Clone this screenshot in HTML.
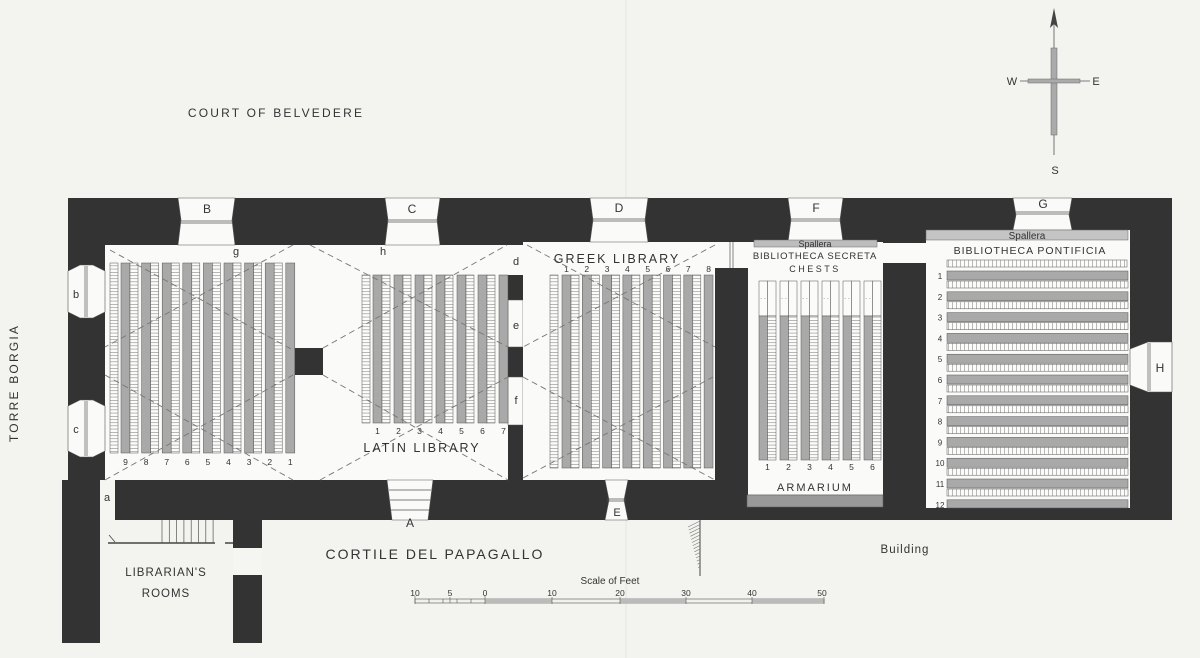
<!DOCTYPE html>
<html><head><meta charset="utf-8"><style>
html,body{margin:0;padding:0;background:#f3f3ef}
svg{display:block}
text{font-family:"Liberation Sans",sans-serif;fill:#333}
</style></head><body>
<svg id="s" width="1200" height="658" viewBox="0 0 1200 658" xmlns="http://www.w3.org/2000/svg">
<defs>
<pattern id="hh" width="8" height="3.2" patternUnits="userSpaceOnUse"><rect width="8" height="3.2" fill="#fbfbf9"/><line x1="0" y1="0.2" x2="8" y2="0.2" stroke="#777" stroke-width="0.6"/></pattern>
<pattern id="hv" width="4" height="8" patternUnits="userSpaceOnUse"><rect width="4" height="8" fill="#fbfbf9"/><line x1="0.2" y1="0" x2="0.2" y2="8" stroke="#777" stroke-width="0.6"/></pattern>
</defs>
<rect width="1200" height="658" fill="#f3f3ef"/>
<line x1="626" y1="0" x2="626" y2="658" stroke="#e4e4e0" stroke-width="1"/>
<!-- walls -->
<rect x="68" y="198" width="1104" height="322" fill="#333"/>
<rect x="62" y="480" width="38" height="163" fill="#333"/>
<rect x="233" y="520" width="29" height="123" fill="#333"/>
<rect x="233" y="548" width="29" height="27" fill="#f5f5f2"/>
<!-- rooms -->
<rect x="105" y="245" width="403" height="235" fill="#fafaf8"/>
<rect x="100" y="480" width="15" height="40" fill="#f5f5f2"/>
<rect x="508" y="245" width="15" height="30" fill="#fafaf8"/>
<rect x="508" y="300" width="15" height="47" fill="#fafaf8" stroke="#555" stroke-width="0.5"/>
<rect x="508" y="377" width="15" height="48" fill="#fafaf8" stroke="#555" stroke-width="0.5"/>
<rect x="523" y="242" width="192" height="238" fill="#fafaf8"/>
<rect x="715" y="242" width="33" height="26" fill="#fafaf8"/>
<line x1="730" y1="242" x2="730" y2="268" stroke="#555" stroke-width="0.7"/>
<line x1="733" y1="242" x2="733" y2="268" stroke="#555" stroke-width="0.7"/>
<rect x="748" y="242" width="135" height="265" fill="#fafaf8"/>
<rect x="883" y="243" width="43" height="20" fill="#fafaf8"/>
<rect x="926" y="230" width="204" height="278" fill="#fafaf8"/>
<rect x="293" y="348" width="30" height="27" fill="#333"/>
<!-- top doors -->
<g fill="#fafaf8" stroke="#555" stroke-width="0.6">
<polygon points="178,198 235,198 232,220 235,245 178,245 181,220"/>
<polygon points="385,198 440,198 437,220 440,245 385,245 388,220"/>
<polygon points="590,198 648,198 645,220 648,242 590,242 593,220"/>
<polygon points="788,198 843,198 840,220 843,242 788,242 791,220"/>
<polygon points="1013,198 1072,198 1069,215 1072,230 1013,230 1016,215"/>
<polygon points="68,271 80,265 93,265 105,271 105,312 93,318 80,318 68,312"/>
<polygon points="68,406 80,400 93,400 105,406 105,451 93,457 80,457 68,451"/>
<polygon points="1130,349 1148,342 1172,342 1172,392 1148,392 1130,385"/>
<polygon points="387,480 433,480 428,520 392,520"/>
<polygon points="605,480 628,480 624,500 628,520 605,520 609,500"/>
</g>
<g stroke="#555" stroke-width="0.7">
<line x1="180" y1="221" x2="233" y2="221"/><line x1="180" y1="223" x2="233" y2="223"/>
<line x1="387" y1="220" x2="438" y2="220"/><line x1="387" y1="222" x2="438" y2="222"/>
<line x1="592" y1="219" x2="646" y2="219"/><line x1="592" y1="221" x2="646" y2="221"/>
<line x1="790" y1="219" x2="841" y2="219"/><line x1="790" y1="221" x2="841" y2="221"/>
<line x1="1015" y1="212" x2="1070" y2="212"/><line x1="1015" y1="214" x2="1070" y2="214"/>
<line x1="85" y1="266" x2="85" y2="317"/><line x1="87" y1="266" x2="87" y2="317"/>
<line x1="85" y1="401" x2="85" y2="456"/><line x1="87" y1="401" x2="87" y2="456"/>
<line x1="1148" y1="343" x2="1148" y2="391"/><line x1="1150" y1="343" x2="1150" y2="391"/>
<line x1="389" y1="490" x2="431" y2="490"/><line x1="390" y1="500" x2="430" y2="500"/><line x1="391" y1="510" x2="429" y2="510"/>
<line x1="607" y1="499" x2="626" y2="499"/><line x1="607" y1="501" x2="626" y2="501"/>
</g>
<g id="dyn"></g>
<!-- dashed lines -->
<g stroke="#777" stroke-width="0.9" stroke-dasharray="6,4" fill="none">
<line x1="110" y1="250" x2="293" y2="350"/><line x1="293" y1="245" x2="105" y2="347"/>
<line x1="105" y1="375" x2="293" y2="480"/><line x1="105" y1="480" x2="293" y2="375"/>
<line x1="323" y1="348" x2="507" y2="245"/><line x1="310" y1="245" x2="508" y2="347"/>
<line x1="323" y1="375" x2="508" y2="480"/><line x1="320" y1="480" x2="508" y2="377"/>
<line x1="527" y1="245" x2="715" y2="347"/><line x1="715" y1="245" x2="523" y2="347"/>
<line x1="523" y1="377" x2="715" y2="480"/><line x1="523" y1="478" x2="713" y2="377"/>
</g>
<!-- Secreta -->
<rect x="754" y="240" width="123" height="7" fill="#bdbdbd" stroke="#666" stroke-width="0.5"/>
<text x="815" y="247" font-size="9" text-anchor="middle">Spallera</text>
<text x="815" y="259" font-size="9.5" text-anchor="middle" letter-spacing="0.8">BIBLIOTHECA SECRETA</text>
<text x="815" y="272" font-size="9" text-anchor="middle" letter-spacing="2.5">CHESTS</text>
<text x="815" y="491" font-size="11" text-anchor="middle" letter-spacing="2">ARMARIUM</text>
<rect x="747" y="495" width="136" height="12" fill="#999" stroke="#555" stroke-width="0.5"/>
<!-- Pontificia -->
<rect x="926" y="230" width="202" height="10" fill="#c4c4c4" stroke="#666" stroke-width="0.5"/>
<text x="1027" y="239" font-size="10" text-anchor="middle">Spallera</text>
<text x="1030" y="254" font-size="10.5" text-anchor="middle" letter-spacing="1">BIBLIOTHECA PONTIFICIA</text>
<!-- labels -->
<g font-size="11" text-anchor="middle" font-family="Liberation Serif">
<text x="207" y="213" font-family="Liberation Sans" font-size="12">B</text>
<text x="412" y="213" font-family="Liberation Sans" font-size="12">C</text>
<text x="619" y="212" font-family="Liberation Sans" font-size="12">D</text>
<text x="816" y="212" font-family="Liberation Sans" font-size="12">F</text>
<text x="1043" y="208" font-family="Liberation Sans" font-size="12">G</text>
<text x="1160" y="372" font-family="Liberation Sans" font-size="12">H</text>
<text x="410" y="527" font-family="Liberation Sans" font-size="12">A</text>
<text x="617" y="516" font-family="Liberation Sans" font-size="11">E</text>
<text x="76" y="298">b</text><text x="76" y="433">c</text>
<text x="107" y="501">a</text>
<text x="236" y="255">g</text><text x="383" y="255">h</text>
<text x="516" y="265">d</text><text x="516" y="329">e</text><text x="516" y="404">f</text>
</g>
<text x="422" y="452" font-size="12.5" text-anchor="middle" letter-spacing="2">LATIN LIBRARY</text>
<text x="617" y="263" font-size="12.5" text-anchor="middle" letter-spacing="2">GREEK LIBRARY</text>
<text x="276" y="117" font-size="12" text-anchor="middle" letter-spacing="2.2">COURT OF BELVEDERE</text>
<text x="0" y="0" font-size="12" text-anchor="middle" letter-spacing="2.2" transform="translate(18,383) rotate(-90)">TORRE BORGIA</text>
<text x="435" y="559" font-size="14" text-anchor="middle" letter-spacing="2">CORTILE DEL PAPAGALLO</text>
<text x="905" y="553" font-size="11.5" text-anchor="middle" letter-spacing="1">Building</text>
<text x="166" y="576" font-size="11.5" text-anchor="middle" letter-spacing="1">LIBRARIAN'S</text>
<text x="166" y="597" font-size="11.5" text-anchor="middle" letter-spacing="1">ROOMS</text>
<!-- librarian stair ticks -->
<g stroke="#444" stroke-width="0.8">
<line x1="108" y1="543" x2="215" y2="543" stroke-width="1.5"/>
<line x1="225" y1="543" x2="233" y2="543" stroke-width="1.5"/>
<line x1="109" y1="535" x2="115" y2="542"/>
</g>
<g id="ticks" stroke="#555" stroke-width="0.7"></g>
<!-- building hatch -->
<line x1="700" y1="520" x2="700" y2="576" stroke="#444" stroke-width="1"/>
<g id="bh" stroke="#777" stroke-width="0.6"></g>
<!-- scale -->
<text x="610" y="584" font-size="10" text-anchor="middle" font-family="Liberation Serif">Scale of Feet</text>
<g font-size="8.5" text-anchor="middle" font-family="Liberation Serif">
<text x="415" y="596">10</text><text x="450" y="596">5</text><text x="485" y="596">0</text><text x="552" y="596">10</text><text x="620" y="596">20</text><text x="686" y="596">30</text><text x="752" y="596">40</text><text x="822" y="596">50</text>
</g>
<rect x="415" y="599" width="409" height="4" fill="#f0f0ec" stroke="#555" stroke-width="0.6"/>
<rect x="485" y="599" width="67" height="4" fill="#bbb"/><rect x="620" y="599" width="66" height="4" fill="#bbb"/><rect x="752" y="599" width="72" height="4" fill="#bbb"/>
<g stroke="#555" stroke-width="0.6"><line x1="415" y1="596" x2="415" y2="604"/><line x1="485" y1="596" x2="485" y2="604"/><line x1="552" y1="597" x2="552" y2="604"/><line x1="620" y1="597" x2="620" y2="604"/><line x1="686" y1="597" x2="686" y2="604"/><line x1="752" y1="597" x2="752" y2="604"/><line x1="824" y1="597" x2="824" y2="604"/>
<line x1="429" y1="599" x2="429" y2="603"/><line x1="443" y1="599" x2="443" y2="603"/><line x1="450" y1="597" x2="450" y2="603"/><line x1="457" y1="599" x2="457" y2="603"/><line x1="471" y1="599" x2="471" y2="603"/></g>
<!-- compass -->
<line x1="1054" y1="20" x2="1054" y2="155" stroke="#555" stroke-width="0.8"/>
<polygon points="1054,8 1050,28 1054,24 1058,28" fill="#444"/>
<rect x="1051" y="48" width="6" height="87" fill="#aaa" stroke="#666" stroke-width="0.5"/>
<line x1="1020" y1="81" x2="1090" y2="81" stroke="#555" stroke-width="0.8"/>
<rect x="1028" y="79" width="52" height="4" fill="#aaa" stroke="#666" stroke-width="0.5"/>
<g font-family="Liberation Serif" font-size="11" text-anchor="middle"><text x="1012" y="85">W</text><text x="1096" y="85">E</text><text x="1055" y="174">S</text></g>
</svg>
<script>
var NS="http://www.w3.org/2000/svg",d=document.getElementById("dyn");
function R(x,y,w,h,f,p){var r=document.createElementNS(NS,"rect");r.setAttribute("x",x);r.setAttribute("y",y);r.setAttribute("width",w);r.setAttribute("height",h);r.setAttribute("fill",f);r.setAttribute("stroke",p||"#555");r.setAttribute("stroke-width","0.5");d.appendChild(r);}
function T(x,y,s,fs){var t=document.createElementNS(NS,"text");t.setAttribute("x",x);t.setAttribute("y",y);t.setAttribute("font-size",fs||8.5);t.setAttribute("text-anchor","middle");t.textContent=s;d.appendChild(t);}
var G="#a9a9a9";
// Latin left
R(110,263,8,190,"url(#hh)");
for(var k=0;k<9;k++){var g=121+20.6*k;R(g,263,9,190,G);if(k<8)R(g+9,263,8,190,"url(#hh)");T(g+4.5,465,String(9-k));}
// Latin right
R(362,275,8,148,"url(#hh)");
for(k=0;k<7;k++){g=373+21*k;R(g,275,9,148,G);if(k<6)R(g+9,275,8,148,"url(#hh)");T(g+4.5,434,String(k+1));}
// Greek
R(550,275,8,193,"url(#hh)");
for(k=0;k<8;k++){g=562+20.3*k;var w=Math.min(9,713-g);R(g,275,w,193,G);if(k<7)R(g+9,275,8,193,"url(#hh)");T(g+4.5,272,String(k+1));}
// Secreta chests
for(k=0;k<6;k++){var x=759+21*k;R(x,281,17,35,"#fbfbf9");R(x+8.5,281,0.1,35,"#555");T(x+4,300,"· ·",6);R(x,316,8.5,144,G);R(x+8.5,316,8.5,144,"url(#hh)");T(x+8.5,470,String(k+1));}
for(k=0;k<5;k++){R(747+27.2*k,495,27.2,12,"#9a9a9a");T(760.6+27.2*k,505,String(k+1),8.5);}
// Pontificia
R(947,260,180,7,"url(#hv)");
for(k=0;k<12;k++){var y=271+20.8*k;var h=Math.min(9,508-y);R(947,y,181,h,G);if(k<11)R(947,y+10,181,7,"url(#hv)");T(940,y+8,String(k+1),8);}
// ticks
var tk=document.getElementById("ticks");
for(k=0;k<8;k++){var l=document.createElementNS(NS,"line");var xx=162+7.3*k;l.setAttribute("x1",xx);l.setAttribute("x2",xx);l.setAttribute("y1",520);l.setAttribute("y2",543);tk.appendChild(l);}
var bh=document.getElementById("bh");
for(k=0;k<14;k++){var l2=document.createElementNS(NS,"line");var yy=521+k*3.5;var len=Math.max(2,12-k*0.8);l2.setAttribute("x1",700-len);l2.setAttribute("x2",700);l2.setAttribute("y1",yy+len*0.5);l2.setAttribute("y2",yy);bh.appendChild(l2);}
</script>
</body></html>
